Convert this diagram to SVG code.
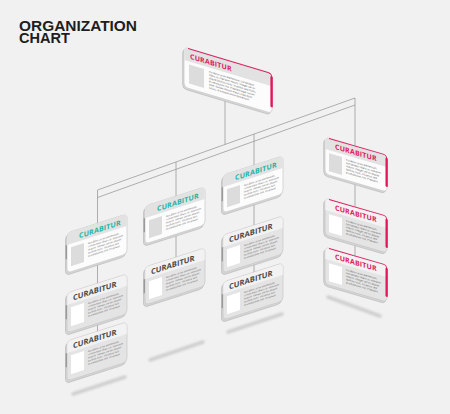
<svg xmlns="http://www.w3.org/2000/svg" width="450" height="414" viewBox="0 0 450 414">
<defs>
<style>
.ln{stroke:#9c9c9c;stroke-width:0.8;fill:none}
.back{fill:#d5d5d5;stroke:#b8b8b8;stroke-width:0.6}
.face{fill:#fcfcfc;stroke:#c4c4c4;stroke-width:0.6}
.faceg{fill:#e4e4e4;stroke:#c4c4c4;stroke-width:0.6}
.hd{fill:#e2e2e2}
.hdg{fill:#f2f2f2}
.ph{fill:#dcdcdc}
.phw{fill:#ffffff}
.edge{fill:#9a9a9a}
.mstripe{fill:#e0175c}
.mtop{stroke:#e0175c;stroke-width:0.9;fill:none}
.t{font-family:"Open Sans","Liberation Sans",sans-serif;font-weight:700;font-size:7px;letter-spacing:0.2px}
.tg{font-family:"Open Sans","Liberation Sans",sans-serif;font-weight:700;font-size:7.6px;fill:#4a4a4a}
.teal{fill:#1fb3a5}
.mag{fill:#e0175c}
.b{font-family:"Liberation Sans",sans-serif;font-size:2.6px;fill:#666}
.sh{stroke:#cfcfcf;stroke-width:3.5;stroke-linecap:round;fill:none;filter:url(#blur)}
.ttl{font-family:"Liberation Sans",Arial,sans-serif;font-weight:700;font-size:14.5px;fill:#1e1e1e}
</style>
<filter id="blur" x="-20%" y="-100%" width="140%" height="300%"><feGaussianBlur stdDeviation="0.8"/></filter>
</defs>
<rect width="450" height="414" fill="#f1f1f1"/>
<g id="title">
<text class="ttl" x="19" y="30.5" textLength="118" lengthAdjust="spacingAndGlyphs">ORGANIZATION</text>
<text class="ttl" x="19" y="43" textLength="51" lengthAdjust="spacingAndGlyphs">CHART</text>
</g>
<g id="shadows">
<line class="sh" x1="73" y1="394" x2="125" y2="377"/>
<line class="sh" x1="150" y1="360" x2="203" y2="342"/>
<line class="sh" x1="228" y1="332" x2="282" y2="314"/>
<line class="sh" x1="328" y1="297" x2="380" y2="316"/>
</g>
<g id="connectors">
<line class="ln" x1="225" y1="95" x2="225" y2="144.5"/>
<line class="ln" x1="97.5" y1="190" x2="355" y2="98"/>
<line class="ln" x1="97.5" y1="197.5" x2="355" y2="105"/>
<line class="ln" x1="97.5" y1="190" x2="97.5" y2="345"/>
<line class="ln" x1="176" y1="162" x2="176" y2="280"/>
<line class="ln" x1="254" y1="134" x2="254" y2="290"/>
<line class="ln" x1="355" y1="98" x2="355" y2="260"/>
</g>

<g id="node-top" transform="translate(184,47) skewY(16.7)">
<rect class="back" x="-1.3" y="2" width="88" height="40" rx="4"/>
<rect class="face" width="88" height="40" rx="4"/>
<path class="hd" d="M0.3,13 V4 Q0.3,0.3 4,0.3 H84 Q87.7,0.3 87.7,4 V13 Z"/>
<path class="mtop" d="M4,0.3 H84 Q87.7,0.3 87.7,4"/>
<rect class="mstripe" x="86.4" y="3" width="2.4" height="31" rx="1"/>
<text class="t mag" x="6" y="10">CURABITUR</text>
<rect class="ph" x="5" y="16" width="15" height="19"/>
<text class="b" x="25" y="18"><tspan x="25">Curabitur at ex elementum, consectetur</tspan><tspan x="25" dy="3.2">libero ut, interdum mauris. Integer vel mi</tspan><tspan x="25" dy="3.2">aliquet facilisis nunc. Vivamus sed mollis</tspan><tspan x="25" dy="3.2">et vestibulum nisl. Praesent eget rutrum</tspan><tspan x="25" dy="3.2">ante. Nullam dictum metus vitae dolor</tspan><tspan x="25" dy="3.2">luctus, id tincidunt enim fermentum.</tspan></text>
</g>

<g id="node-c1-1" transform="translate(67,233) skewY(-17.7)">
<rect class="back" x="-1.5" y="2" width="60" height="40" rx="4"/>
<rect class="face" width="60" height="40" rx="4"/>
<path class="hd" d="M0.3,12 V4 Q0.3,0.3 4,0.3 H56 Q59.7,0.3 59.7,4 V12 Z"/>
<rect class="edge" x="-1.4" y="12" width="1.4" height="14"/>
<text class="t teal" x="12" y="9.2">CURABITUR</text>
<rect class="ph" x="4" y="15.5" width="13" height="19"/>
<text class="b" x="21" y="18"><tspan x="21">Curabitur at ex elementum,</tspan><tspan x="21" dy="3.2">consectetur libero ut, interdum</tspan><tspan x="21" dy="3.2">mauris. Integer vel mi aliquet</tspan><tspan x="21" dy="3.2">facilisis nunc. Vivamus sed</tspan><tspan x="21" dy="3.2">et vestibulum nisl. Praesent</tspan></text>
</g>
<g id="node-c1-2" transform="translate(67,293) skewY(-17.7)">
<rect class="back" x="-1.5" y="2" width="60" height="40" rx="4"/>
<rect class="faceg" width="60" height="40" rx="4"/>
<path class="hdg" d="M0.3,12 V4 Q0.3,0.3 4,0.3 H56 Q59.7,0.3 59.7,4 V12 Z"/>
<rect class="edge" x="-1.4" y="12" width="1.4" height="14"/>
<text class="tg" x="6" y="9.4">CURABITUR</text>
<rect class="phw" x="4" y="15.5" width="13" height="19"/>
<text class="b" x="21" y="18"><tspan x="21">Curabitur at ex elementum,</tspan><tspan x="21" dy="3.2">consectetur libero ut, interdum</tspan><tspan x="21" dy="3.2">mauris. Integer vel mi aliquet</tspan><tspan x="21" dy="3.2">facilisis nunc. Vivamus sed</tspan><tspan x="21" dy="3.2">et vestibulum nisl. Praesent</tspan></text>
</g>
<g id="node-c1-3" transform="translate(67,341) skewY(-17.7)">
<rect class="back" x="-1.5" y="2" width="60" height="40" rx="4"/>
<rect class="faceg" width="60" height="40" rx="4"/>
<path class="hdg" d="M0.3,12 V4 Q0.3,0.3 4,0.3 H56 Q59.7,0.3 59.7,4 V12 Z"/>
<rect class="edge" x="-1.4" y="12" width="1.4" height="14"/>
<text class="tg" x="6" y="9.4">CURABITUR</text>
<rect class="phw" x="4" y="15.5" width="13" height="19"/>
<text class="b" x="21" y="18"><tspan x="21">Curabitur at ex elementum,</tspan><tspan x="21" dy="3.2">consectetur libero ut, interdum</tspan><tspan x="21" dy="3.2">mauris. Integer vel mi aliquet</tspan><tspan x="21" dy="3.2">facilisis nunc. Vivamus sed</tspan><tspan x="21" dy="3.2">et vestibulum nisl. Praesent</tspan></text>
</g>

<g id="node-c2-1" transform="translate(145,206) skewY(-17.7)">
<rect class="back" x="-1.5" y="2" width="60" height="38" rx="4"/>
<rect class="face" width="60" height="38" rx="4"/>
<path class="hd" d="M0.3,12 V4 Q0.3,0.3 4,0.3 H56 Q59.7,0.3 59.7,4 V12 Z"/>
<rect class="edge" x="-1.4" y="12" width="1.4" height="14"/>
<text class="t teal" x="12" y="9.2">CURABITUR</text>
<rect class="ph" x="4" y="15.5" width="13" height="18"/>
<text class="b" x="21" y="18"><tspan x="21">Curabitur at ex elementum,</tspan><tspan x="21" dy="3.2">consectetur libero ut, interdum</tspan><tspan x="21" dy="3.2">mauris. Integer vel mi aliquet</tspan><tspan x="21" dy="3.2">facilisis nunc. Vivamus sed</tspan><tspan x="21" dy="3.2">et vestibulum nisl. Praesent</tspan></text>
</g>
<g id="node-c2-2" transform="translate(145,267) skewY(-17.7)">
<rect class="back" x="-1.5" y="2" width="60" height="38" rx="4"/>
<rect class="faceg" width="60" height="38" rx="4"/>
<path class="hdg" d="M0.3,12 V4 Q0.3,0.3 4,0.3 H56 Q59.7,0.3 59.7,4 V12 Z"/>
<rect class="edge" x="-1.4" y="12" width="1.4" height="14"/>
<text class="tg" x="6" y="9.4">CURABITUR</text>
<rect class="phw" x="4" y="15.5" width="13" height="18"/>
<text class="b" x="21" y="18"><tspan x="21">Curabitur at ex elementum,</tspan><tspan x="21" dy="3.2">consectetur libero ut, interdum</tspan><tspan x="21" dy="3.2">mauris. Integer vel mi aliquet</tspan><tspan x="21" dy="3.2">facilisis nunc. Vivamus sed</tspan><tspan x="21" dy="3.2">et vestibulum nisl. Praesent</tspan></text>
</g>

<g id="node-c3-1" transform="translate(223,175) skewY(-17.7)">
<rect class="back" x="-1.5" y="2" width="60" height="38" rx="4"/>
<rect class="face" width="60" height="38" rx="4"/>
<path class="hd" d="M0.3,12 V4 Q0.3,0.3 4,0.3 H56 Q59.7,0.3 59.7,4 V12 Z"/>
<rect class="edge" x="-1.4" y="12" width="1.4" height="14"/>
<text class="t teal" x="12" y="9.2">CURABITUR</text>
<rect class="ph" x="4" y="15.5" width="13" height="18"/>
<text class="b" x="21" y="18"><tspan x="21">Curabitur at ex elementum,</tspan><tspan x="21" dy="3.2">consectetur libero ut, interdum</tspan><tspan x="21" dy="3.2">mauris. Integer vel mi aliquet</tspan><tspan x="21" dy="3.2">facilisis nunc. Vivamus sed</tspan><tspan x="21" dy="3.2">et vestibulum nisl. Praesent</tspan></text>
</g>
<g id="node-c3-2" transform="translate(223,235) skewY(-17.7)">
<rect class="back" x="-1.5" y="2" width="60" height="38" rx="4"/>
<rect class="faceg" width="60" height="38" rx="4"/>
<path class="hdg" d="M0.3,12 V4 Q0.3,0.3 4,0.3 H56 Q59.7,0.3 59.7,4 V12 Z"/>
<rect class="edge" x="-1.4" y="12" width="1.4" height="14"/>
<text class="tg" x="6" y="9.4">CURABITUR</text>
<rect class="phw" x="4" y="15.5" width="13" height="18"/>
<text class="b" x="21" y="18"><tspan x="21">Curabitur at ex elementum,</tspan><tspan x="21" dy="3.2">consectetur libero ut, interdum</tspan><tspan x="21" dy="3.2">mauris. Integer vel mi aliquet</tspan><tspan x="21" dy="3.2">facilisis nunc. Vivamus sed</tspan><tspan x="21" dy="3.2">et vestibulum nisl. Praesent</tspan></text>
</g>
<g id="node-c3-3" transform="translate(223,282) skewY(-17.7)">
<rect class="back" x="-1.5" y="2" width="60" height="38" rx="4"/>
<rect class="faceg" width="60" height="38" rx="4"/>
<path class="hdg" d="M0.3,12 V4 Q0.3,0.3 4,0.3 H56 Q59.7,0.3 59.7,4 V12 Z"/>
<rect class="edge" x="-1.4" y="12" width="1.4" height="14"/>
<text class="tg" x="6" y="9.4">CURABITUR</text>
<rect class="phw" x="4" y="15.5" width="13" height="18"/>
<text class="b" x="21" y="18"><tspan x="21">Curabitur at ex elementum,</tspan><tspan x="21" dy="3.2">consectetur libero ut, interdum</tspan><tspan x="21" dy="3.2">mauris. Integer vel mi aliquet</tspan><tspan x="21" dy="3.2">facilisis nunc. Vivamus sed</tspan><tspan x="21" dy="3.2">et vestibulum nisl. Praesent</tspan></text>
</g>

<g id="node-c4-1" transform="translate(325,137) skewY(16.2)">
<rect class="back" x="-1.3" y="2" width="62" height="37" rx="4"/>
<rect class="face" width="62" height="37" rx="4"/>
<path class="hd" d="M0.3,12 V4 Q0.3,0.3 4,0.3 H58 Q61.7,0.3 61.7,4 V12 Z"/>
<path class="mtop" d="M4,0.3 H58 Q61.7,0.3 61.7,4"/>
<rect class="mstripe" x="60.5" y="3" width="2.3" height="29" rx="1"/>
<text class="t mag" x="10" y="9.2">CURABITUR</text>
<rect class="ph" x="4" y="15" width="13" height="18"/>
<text class="b" x="21" y="17.5"><tspan x="21">Curabitur at ex elementum,</tspan><tspan x="21" dy="3.2">consectetur libero ut, interdum</tspan><tspan x="21" dy="3.2">mauris. Integer vel mi aliquet</tspan><tspan x="21" dy="3.2">facilisis nunc. Vivamus sed</tspan><tspan x="21" dy="3.2">et vestibulum nisl. Praesent</tspan></text>
</g>
<g id="node-c4-2" transform="translate(325,198) skewY(16.2)">
<rect class="back" x="-1.3" y="2" width="62" height="37" rx="4"/>
<rect class="faceg" width="62" height="37" rx="4"/>
<path class="hdg" d="M0.3,12 V4 Q0.3,0.3 4,0.3 H58 Q61.7,0.3 61.7,4 V12 Z"/>
<path class="mtop" d="M4,0.3 H58 Q61.7,0.3 61.7,4"/>
<rect class="mstripe" x="60.5" y="3" width="2.3" height="29" rx="1"/>
<text class="t mag" x="10" y="9.2">CURABITUR</text>
<rect class="phw" x="4" y="15" width="13" height="18"/>
<text class="b" x="21" y="17.5"><tspan x="21">Curabitur at ex elementum,</tspan><tspan x="21" dy="3.2">consectetur libero ut, interdum</tspan><tspan x="21" dy="3.2">mauris. Integer vel mi aliquet</tspan><tspan x="21" dy="3.2">facilisis nunc. Vivamus sed</tspan><tspan x="21" dy="3.2">et vestibulum nisl. Praesent</tspan></text>
</g>
<g id="node-c4-3" transform="translate(325,247) skewY(16.2)">
<rect class="back" x="-1.3" y="2" width="62" height="37" rx="4"/>
<rect class="faceg" width="62" height="37" rx="4"/>
<path class="hdg" d="M0.3,12 V4 Q0.3,0.3 4,0.3 H58 Q61.7,0.3 61.7,4 V12 Z"/>
<path class="mtop" d="M4,0.3 H58 Q61.7,0.3 61.7,4"/>
<rect class="mstripe" x="60.5" y="3" width="2.3" height="29" rx="1"/>
<text class="t mag" x="10" y="9.2">CURABITUR</text>
<rect class="phw" x="4" y="15" width="13" height="18"/>
<text class="b" x="21" y="17.5"><tspan x="21">Curabitur at ex elementum,</tspan><tspan x="21" dy="3.2">consectetur libero ut, interdum</tspan><tspan x="21" dy="3.2">mauris. Integer vel mi aliquet</tspan><tspan x="21" dy="3.2">facilisis nunc. Vivamus sed</tspan><tspan x="21" dy="3.2">et vestibulum nisl. Praesent</tspan></text>
</g>
</svg>
